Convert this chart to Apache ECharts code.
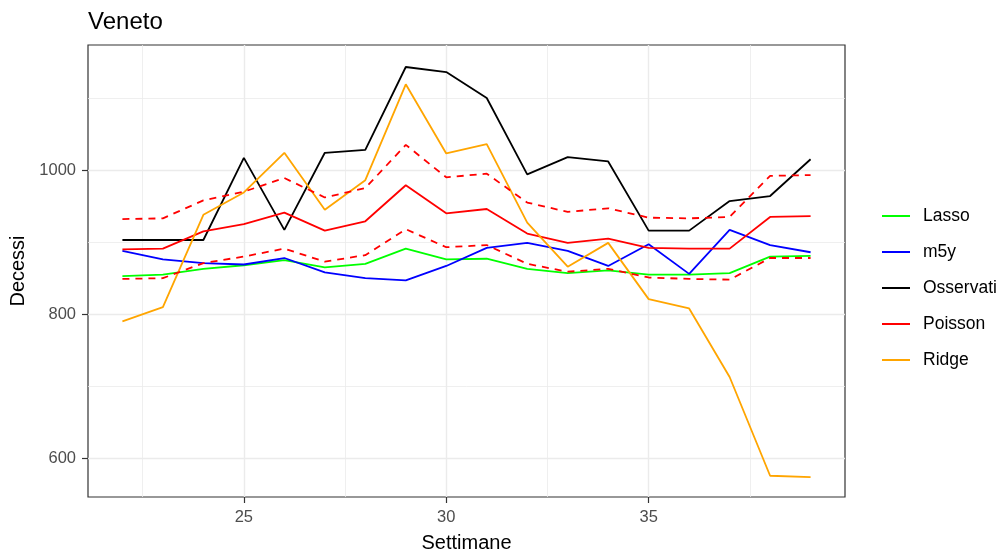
<!DOCTYPE html>
<html>
<head>
<meta charset="utf-8">
<script src="https://cdn.jsdelivr.net/npm/echarts@6/dist/echarts.min.js"></script>
<style>
  html, body { margin: 0; padding: 0; background: #fff; }
  #chart { width: 1001px; height: 553px; }
</style>
</head>
<body>
<div id="chart"></div>
<script>
  // settimane 22..39
  var settimane = [22, 23, 24, 25, 26, 27, 28, 29, 30, 31, 32, 33, 34, 35, 36, 37, 38, 39]
  var osservati = [903, 903, 903, 1017, 917, 1024, 1028, 1143, 1136, 1100, 994, 1018, 1012, 916, 916, 957, 964, 1015]
  var ridge = [790, 810, 938, 969, 1024, 945, 986, 1119, 1023, 1036, 927, 866, 899, 821, 808, 713, 576, 574]
  var poisson = [890, 891, 915, 925, 941, 916, 929, 979, 940, 946, 912, 899, 905, 892, 891, 891, 935, 936]
  var poissonSup = [932, 933, 958, 970, 989, 962, 975, 1035, 990, 995, 955, 942, 947, 934, 933, 935, 992, 993]
  var poissonInf = [849, 850, 871, 880, 891, 873, 882, 918, 893, 896, 870, 859, 863, 851, 849, 848, 878, 878]
  var m5y = [888, 876, 871, 869, 878, 858, 850, 847, 867, 892, 899, 888, 867, 897, 856, 917, 896, 886]
  var lasso = [853, 855, 863, 868, 875, 865, 870, 891, 876, 877, 863, 857, 861, 855, 855, 857, 880, 881]

  var xMajor = [25, 30, 35]
  var xMinor = [22.5, 27.5, 32.5, 37.5]
  var yMajor = [600, 800, 1000]
  var yMinor = [700, 900, 1100]

  var font = 'Liberation Sans, Arial, sans-serif'

  function coppie(vals) {
    return settimane.map(function (s, i) { return [s, vals[i]] })
  }

  function linea(nome, vals, colore, tipo) {
    return {
      name: nome,
      type: 'line',
      data: coppie(vals),
      symbol: 'none',
      silent: true,
      lineStyle: { color: colore, width: 1.8, type: tipo || 'solid' },
      itemStyle: { color: colore }
    }
  }

  var chart = echarts.init(document.getElementById('chart'))

  var option = {
    animation: false,
    backgroundColor: '#fff',
    title: {
      text: 'Veneto',
      left: 83,
      top: 5,
      textStyle: { fontFamily: font, fontSize: 24, fontWeight: 'normal', color: '#000' }
    },
    legend: {
      orient: 'vertical',
      left: 882,
      top: 207,
      padding: 0,
      icon: 'rect',
      itemWidth: 28,
      itemHeight: 2,
      itemGap: 18,
      data: ['Lasso', 'm5y', 'Osservati', 'Poisson', 'Ridge'],
      textStyle: { fontFamily: font, fontSize: 17.5, lineHeight: 18, color: '#000', padding: [0, 0, 0, 8] }
    },
    grid: {
      left: 88,
      top: 45,
      right: 156,
      bottom: 56,
      outerBoundsMode: 'none',
      containLabel: false,
      show: true,
      borderColor: '#333',
      borderWidth: 1.2,
      backgroundColor: '#fff'
    },
    xAxis: [
      {
        type: 'value',
        min: 21.15,
        max: 39.85,
        name: 'Settimane',
        nameLocation: 'middle',
        nameGap: 36,
        nameTextStyle: { fontFamily: font, fontSize: 20, color: '#000' },
        axisLine: { show: false },
        axisTick: { show: true, inside: false, length: 6, customValues: xMajor, lineStyle: { color: '#333', width: 1.2 } },
        axisLabel: { customValues: xMajor, fontFamily: font, fontSize: 16.5, color: '#4d4d4d', margin: 12 },
        splitLine: { show: true, lineStyle: { color: '#ebebeb', width: 1.4 } }
      },
      {
        type: 'value',
        min: 21.15,
        max: 39.85,
        position: 'bottom',
        axisLine: { show: false },
        axisTick: { show: false, customValues: xMinor },
        axisLabel: { show: false, customValues: xMinor },
        splitLine: { show: true, lineStyle: { color: '#ebebeb', width: 0.8 } }
      }
    ],
    yAxis: [
      {
        type: 'value',
        min: 546.5,
        max: 1173.5,
        name: 'Decessi',
        nameLocation: 'middle',
        nameGap: 58,
        nameRotate: 90,
        nameTextStyle: { fontFamily: font, fontSize: 20, color: '#000' },
        axisLine: { show: false },
        axisTick: { show: true, inside: false, length: 6, customValues: yMajor, lineStyle: { color: '#333', width: 1.2 } },
        axisLabel: {
          customValues: yMajor, fontFamily: font, fontSize: 16.5, color: '#4d4d4d', margin: 12,
          formatter: function (v) { return String(v) }
        },
        splitLine: { show: true, lineStyle: { color: '#ebebeb', width: 1.4 } }
      },
      {
        type: 'value',
        min: 546.5,
        max: 1173.5,
        position: 'left',
        axisLine: { show: false },
        axisTick: { show: false, customValues: yMinor },
        axisLabel: { show: false, customValues: yMinor },
        splitLine: { show: true, lineStyle: { color: '#ebebeb', width: 0.8 } }
      }
    ],
    series: [
      linea('Osservati', osservati, '#000000'),
      linea('Lasso', lasso, '#00ff00'),
      linea('m5y', m5y, '#0000ff'),
      linea('Poisson', poisson, '#ff0000'),
      linea('Ridge', ridge, '#ffa500'),
      linea('Poisson sup', poissonSup, '#ff0000', [7, 6]),
      linea('Poisson inf', poissonInf, '#ff0000', [7, 6])
    ]
  }

  chart.setOption(option)
</script>
</body>
</html>
